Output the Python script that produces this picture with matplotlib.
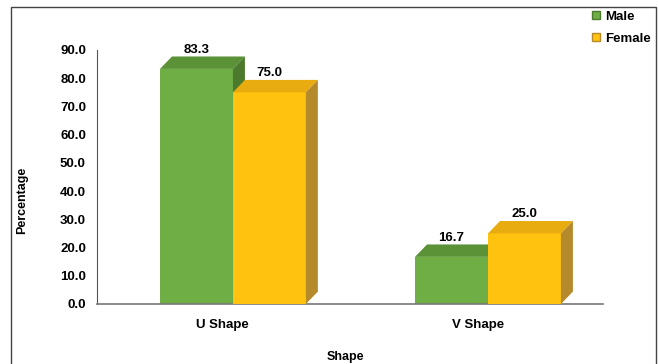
import matplotlib.pyplot as plt
import numpy as np
from matplotlib.patches import Polygon, Rectangle, Patch

categories = ['U Shape', 'V Shape']
male = [83.3, 16.7]
female = [75.0, 25.0]
series = ['Male', 'Female']

# front, top, side colours for each series
colors = {
    'Male': ('#6fae45', '#5b9238', '#4b7a2c'),
    'Female': ('#ffc20e', '#e8ac10', '#b58a2a'),
}

plt.rcParams['font.family'] = ['Liberation Sans', 'DejaVu Sans']
plt.rcParams['font.weight'] = 'bold'

fig = plt.figure(figsize=(6.59, 3.64), dpi=100)
ax = fig.add_axes([97 / 659, 1 - 304 / 364, (603 - 97) / 659, (304 - 50) / 364])

x = np.arange(len(categories))
width = 0.286
dx, dy = 0.047, 4.4


def draw_3d(bars, key):
    front, top, side = colors[key]
    for b in bars:
        b.set_facecolor(front)
        x0, w, h = b.get_x(), b.get_width(), b.get_height()
        ax.add_patch(Polygon([(x0, h), (x0 + dx, h + dy), (x0 + w + dx, h + dy), (x0 + w, h)],
                             closed=True, facecolor=top, edgecolor='none', zorder=b.get_zorder()))
        ax.add_patch(Polygon([(x0 + w, 0), (x0 + w + dx, dy), (x0 + w + dx, h + dy), (x0 + w, h)],
                             closed=True, facecolor=side, edgecolor='none', zorder=b.get_zorder()))
        ax.text(x0 + w / 2, h + dy + 2.4, f'{h:.1f}', ha='center', va='center',
                fontsize=9.5, fontweight='bold', zorder=5)


bars_m = ax.bar(x - width / 2, male, width, zorder=2)
draw_3d(bars_m, 'Male')
bars_f = ax.bar(x + width / 2, female, width, zorder=3)
draw_3d(bars_f, 'Female')

ax.set_xlim(-0.533, 1.451)
ax.set_ylim(0, 90)
ax.set_yticks(np.arange(0, 91, 10))
ax.set_yticklabels([f'{v:.1f}' for v in np.arange(0, 91, 10)], fontsize=9.5, fontweight='bold')
ax.set_xticks(x - 0.04)
ax.set_xticklabels(categories, fontsize=9.5, fontweight='bold')
ax.tick_params(axis='y', length=0, pad=8)
ax.tick_params(axis='x', length=0, pad=11)
for s in ['top', 'right']:
    ax.spines[s].set_visible(False)
ax.spines['left'].set_color('#555555')
ax.spines['bottom'].set_color('#777777')
ax.spines['bottom'].set_linewidth(1.2)

fig.text(22 / 659, 1 - 200 / 364, 'Percentage', rotation=90, ha='center', va='center',
         fontsize=9, fontweight='bold')
fig.text(345 / 659, 1 - 357 / 364, 'Shape', ha='center', va='center',
         fontsize=9, fontweight='bold')

handles = [Patch(facecolor=colors[s][0], edgecolor=colors[s][2]) for s in series]
leg = fig.legend(handles, series, loc='upper left', bbox_to_anchor=(580 / 659, 1 + 1 / 364),
                 frameon=False, prop={'size': 9.5, 'weight': 'bold'},
                 handlelength=0.6, handleheight=0.6, handletextpad=0.4, labelspacing=0.75)

fig.patches.append(Rectangle((11 / 659, -0.1), (656 - 11) / 659, 1.1 - 7 / 364,
                             transform=fig.transFigure, fill=False, edgecolor='#444444',
                             linewidth=1.0))

fig.savefig('out.png', dpi=100)
